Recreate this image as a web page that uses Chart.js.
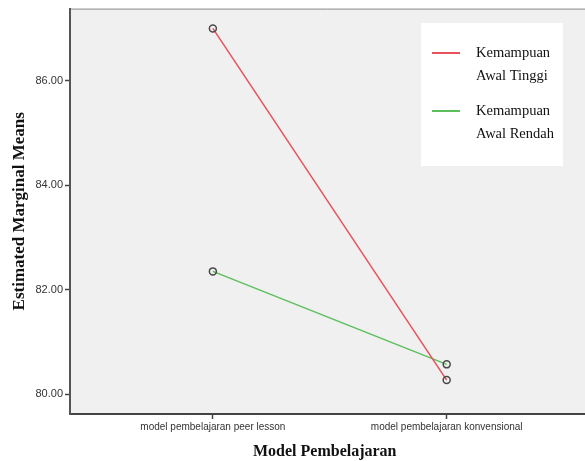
<!DOCTYPE html>
<html>
<head>
<meta charset="utf-8">
<script src="https://cdn.jsdelivr.net/npm/chart.js@4"></script>
<style>
  html, body { margin: 0; padding: 0; background: #fff; overflow: hidden; }
</style>
</head>
<body>
<canvas id="chart" width="585" height="461"></canvas>
<script>
const categories = ['model pembelajaran peer lesson', 'model pembelajaran konvensional'];
const tinggi = [87.0, 80.27];
const rendah = [82.35, 80.57];
const seriesNames = [['Kemampuan', 'Awal Tinggi'], ['Kemampuan', 'Awal Rendah']];
const yTicks = [80, 82, 84, 86];

// grey plot background, running to the right edge of the picture
const plotBg = {
    id: 'plotBg',
    beforeDraw(chart) {
        const { ctx, chartArea: a } = chart;
        ctx.save();
        ctx.fillStyle = '#f0f0f0';
        ctx.fillRect(a.left, a.top, chart.width - a.left, a.bottom - a.top);
        ctx.strokeStyle = '#8a8a8a';
        ctx.lineWidth = 1;
        ctx.beginPath();
        ctx.moveTo(a.left, a.top + 0.5);
        ctx.lineTo(chart.width, a.top + 0.5);
        ctx.stroke();
        ctx.restore();
    },
    afterDraw(chart) {
        const { ctx, chartArea: a } = chart;
        ctx.save();
        ctx.strokeStyle = '#444';
        ctx.lineWidth = 2;
        ctx.beginPath();
        ctx.moveTo(a.right - 1, a.bottom);
        ctx.lineTo(chart.width, a.bottom);
        ctx.stroke();
        ctx.restore();
    }
};

const legendBox = {
    id: 'legendBox',
    afterDraw(chart) {
        const ctx = chart.ctx;
        ctx.save();
        ctx.fillStyle = '#ffffff';
        ctx.fillRect(421, 23, 142, 143);
        ctx.font = '14.5px "Liberation Serif", "Times New Roman", serif';
        ctx.textBaseline = 'middle';
        ctx.fillStyle = '#111';
        const rows = [53, 111];
        chart.data.datasets.forEach((ds, i) => {
            const y = rows[i];
            ctx.strokeStyle = ds.borderColor;
            ctx.lineWidth = 2;
            ctx.beginPath();
            ctx.moveTo(432, y);
            ctx.lineTo(460, y);
            ctx.stroke();
            seriesNames[i].forEach((t, j) => {
                ctx.fillText(t, 476, y + j * 23);
            });
        });
        ctx.restore();
    }
};

new Chart(document.querySelector('#chart').getContext('2d'), {
    type: 'line',
    data: {
        datasets: [
            {
                label: seriesNames[0].join(' '),
                data: categories.map((c, i) => ({ x: i, y: tinggi[i] })),
                borderColor: '#e8505c',
                borderWidth: 1.5,
                pointRadius: 3.5,
                pointBorderWidth: 1.5,
                pointBorderColor: '#4a4a4a',
                pointBackgroundColor: 'rgba(0,0,0,0)'
            },
            {
                label: seriesNames[1].join(' '),
                data: categories.map((c, i) => ({ x: i, y: rendah[i] })),
                borderColor: '#5cbf5c',
                borderWidth: 1.5,
                pointRadius: 3.5,
                pointBorderWidth: 1.5,
                pointBorderColor: '#4a4a4a',
                pointBackgroundColor: 'rgba(0,0,0,0)'
            }
        ]
    },
    options: {
        responsive: false,
        animation: false,
        layout: { padding: { top: 8, right: 0, left: 0, bottom: 0 } },
        plugins: {
            legend: { display: false },
            tooltip: { enabled: false }
        },
        scales: {
            x: {
                type: 'linear',
                min: -0.611,
                max: 1.568,
                afterBuildTicks: axis => { axis.ticks = categories.map((c, i) => ({ value: i })); },
                afterFit: axis => { axis.height = 47; },
                ticks: {
                    callback: v => categories[v],
                    font: { family: '"Liberation Sans", Arial, sans-serif', size: 10 },
                    color: '#333',
                    padding: 2,
                    maxRotation: 0,
                    autoSkip: false
                },
                grid: { drawOnChartArea: false, drawTicks: true, tickLength: 5, tickColor: '#444', tickWidth: 1.5 },
                border: { display: true, color: '#444', width: 2 },
                title: {
                    display: true,
                    text: 'Model Pembelajaran',
                    font: { family: '"Liberation Serif", "Times New Roman", serif', size: 16, weight: 'bold' },
                    color: '#111',
                    padding: 0
                }
            },
            y: {
                min: 79.62,
                max: 87.38,
                afterBuildTicks: axis => { axis.ticks = yTicks.map(v => ({ value: v })); },
                afterFit: axis => { axis.width = 70; },
                ticks: {
                    callback: v => v.toFixed(2),
                    font: { family: '"Liberation Sans", Arial, sans-serif', size: 11 },
                    color: '#333',
                    padding: 2
                },
                grid: { drawOnChartArea: false, drawTicks: true, tickLength: 5, tickColor: '#444', tickWidth: 1.5 },
                border: { display: true, color: '#555', width: 2 },
                title: {
                    display: true,
                    text: 'Estimated Marginal Means',
                    font: { family: '"Liberation Serif", "Times New Roman", serif', size: 17, weight: 'bold' },
                    color: '#111',
                    padding: { top: 9, bottom: 0 }
                }
            }
        }
    },
    plugins: [plotBg, legendBox]
});
</script>
</body>
</html>
